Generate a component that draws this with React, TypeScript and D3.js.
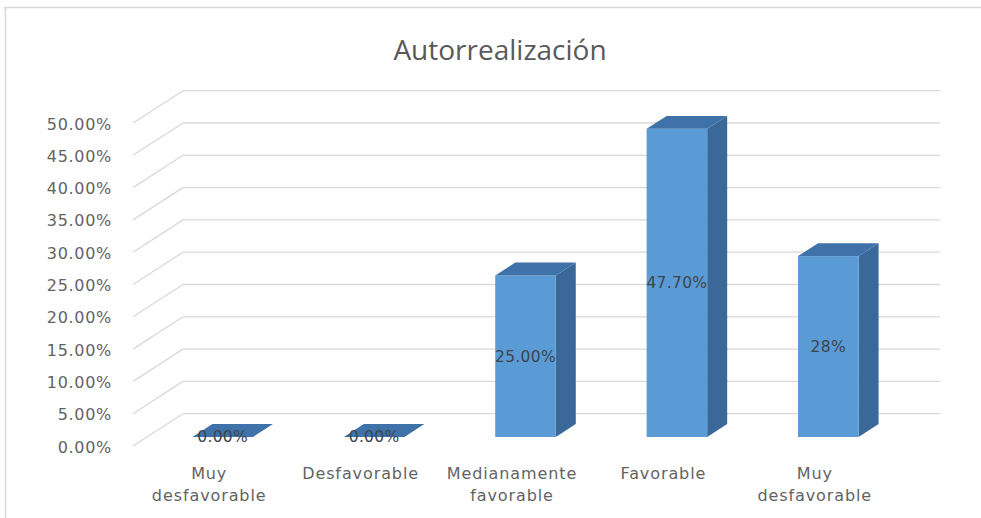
import React from "react";
import * as d3 from "d3";

const categories: string[][] = [
  ["Muy", "desfavorable"],
  ["Desfavorable"],
  ["Medianamente", "favorable"],
  ["Favorable"],
  ["Muy", "desfavorable"],
];
const values: number[] = [0, 0, 0.25, 0.477, 0.28];
const dataLabels: string[] = ["0.00%", "0.00%", "25.00%", "47.70%", "28%"];
const ticks: number[] = [0, 0.05, 0.1, 0.15, 0.2, 0.25, 0.3, 0.35, 0.4, 0.45, 0.5];
const title = "Autorrealización";

const W = 981;
const H = 518;
const DX = 50; // full depth offset x
const DY = -32.3; // full depth offset y
const Z0 = 0.28; // bar front depth fraction
const Z1 = 0.68; // bar back depth fraction

export default function App() {
  const x = d3
    .scaleBand<number>()
    .domain(categories.map((_, i) => i))
    .range([133, 890])
    .paddingInner(0)
    .paddingOuter(0);
  const y = d3.scaleLinear().domain([0, 0.5]).range([446, 123]);
  const fmt = d3.format(".2%");
  const bw = x.bandwidth() * 0.4;
  const grid = "#d9d9d9";

  const pts = (p: [number, number][]) => p.map((q) => q.join(",")).join(" ");

  return (
    <svg
      width={W}
      height={H}
      style={{ position: "absolute", left: 0, top: 0, display: "block", background: "#fff" }}
    >
      {/* frame */}
      <line x1={4} x2={W} y1={7.5} y2={7.5} stroke={grid} strokeWidth={1.5} />
      <line x1={5.5} x2={5.5} y1={7} y2={H} stroke={grid} strokeWidth={1.5} />

      {/* title */}
      <text
        x={500}
        y={60}
        textAnchor="middle"
        fontFamily="'Open Sans', sans-serif"
        fontSize={28}
        fill="#595959"
      >
        {title}
      </text>

      {/* gridlines: back wall + side wall diagonals */}
      {ticks.map((t) => {
        const yf = y(t);
        const xl = x.range()[0];
        const xr = x.range()[1];
        return (
          <g key={t}>
            <line x1={xl} y1={yf} x2={xl + DX} y2={yf + DY} stroke={grid} strokeWidth={1.3} />
            <line x1={xl + DX} y1={yf + DY} x2={xr + DX} y2={yf + DY} stroke={grid} strokeWidth={1.3} />
          </g>
        );
      })}

      {/* y tick labels */}
      {ticks.map((t) => (
        <text
          key={"l" + t}
          x={112}
          y={y(t) + 6.5}
          textAnchor="end"
          fontFamily="'DejaVu Sans', sans-serif"
          fontSize={16}
          letterSpacing={0.7}
          fill="#636363"
        >
          {fmt(t)}
        </text>
      ))}

      {/* bars */}
      {values.map((v, i) => {
        const cx = (x(i) as number) + x.bandwidth() / 2;
        const xl = cx - bw / 2 + Z0 * DX;
        const xr = cx + bw / 2 + Z0 * DX;
        const yt = y(v) + Z0 * DY;
        const yb = y(0) + Z0 * DY;
        const ddx = (Z1 - Z0) * DX;
        const ddy = (Z1 - Z0) * DY;
        return (
          <g key={"b" + i}>
            <polygon
              points={pts([
                [xr, yt],
                [xr + ddx, yt + ddy],
                [xr + ddx, yb + ddy],
                [xr, yb],
              ])}
              fill="#3a6898"
            />
            <rect x={xl} y={yt} width={xr - xl} height={yb - yt} fill="#5b9bd5" />
            <polygon
              points={pts([
                [xl, yt],
                [xr, yt],
                [xr + ddx, yt + ddy],
                [xl + ddx, yt + ddy],
              ])}
              fill="#3f72a8"
            />
            <text
              x={(xl + xr) / 2}
              y={(yt + yb) / 2 + 5.5}
              textAnchor="middle"
              fontFamily="'DejaVu Sans', sans-serif"
              fontSize={15.5}
              letterSpacing={0.3}
              fill="#3d4450"
            >
              {dataLabels[i]}
            </text>
          </g>
        );
      })}

      {/* category labels */}
      {categories.map((lines, i) => {
        const cx = (x(i) as number) + x.bandwidth() / 2;
        return (
          <text
            key={"c" + i}
            textAnchor="middle"
            fontFamily="'DejaVu Sans', sans-serif"
            fontSize={16}
            letterSpacing={0.9}
            fill="#636363"
          >
            {lines.map((ln, j) => (
              <tspan key={j} x={cx + 0.5} y={479 + j * 21.5}>
                {ln}
              </tspan>
            ))}
          </text>
        );
      })}
    </svg>
  );
}
